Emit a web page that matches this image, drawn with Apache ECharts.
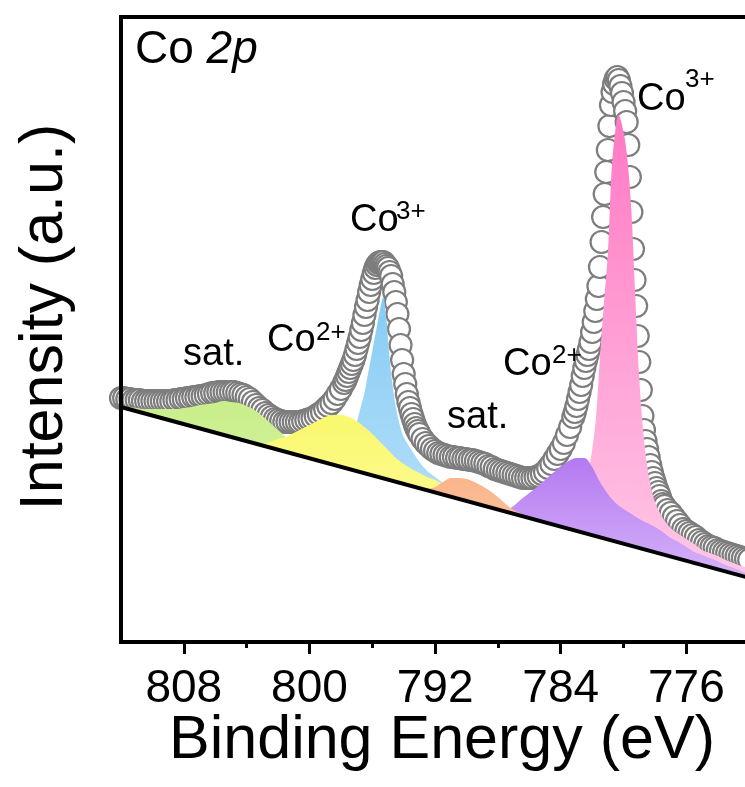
<!DOCTYPE html>
<html>
<head>
<meta charset="utf-8">
<script src="https://cdn.jsdelivr.net/npm/echarts@6/dist/echarts.min.js"></script>
<style>html,body{margin:0;padding:0;background:#fff}#c{width:745px;height:787px}</style>
</head>
<body>
<div id="c"></div>
<script>
// ---- data (binding energy in eV, intensity in arbitrary units) ----
const xMajorTicks = [768, 776, 784, 792, 800, 808];
const xTickLabels = [776, 784, 792, 800, 808];
const xMinorTicks = [772, 780, 788, 796, 804];

const baseline = [[812, 235], [768, 47]];

const envelope = [
[812.0,244],[811.8,244],[811.6,243],[811.4,243],[811.2,242],[811.0,242],[810.8,242],[810.6,241],[810.4,241],[810.2,241],[810.0,241],[809.8,241],[809.6,241],[809.4,241],[809.2,241],[809.0,241],[808.8,241],[808.6,242],[808.4,242],[808.2,243],[808.0,243],[807.8,244],[807.6,244],[807.4,245],[807.2,245],[807.0,246],[806.8,246],[806.6,247],[806.4,248],[806.2,249],[806.0,249],[805.8,250],[805.6,250],[805.4,250],[805.2,250],[805.0,250],[804.8,250],[804.6,249],[804.4,248],[804.2,247],[804.0,245],[803.8,243],[803.6,240],[803.4,237],[803.2,234],[803.0,232],[802.8,229],[802.6,227],[802.4,225],[802.2,223],[802.0,222],[801.8,221],[801.6,220],[801.4,220],[801.2,220],[801.0,220],[800.8,220],[800.6,220],[800.4,221],[800.2,222],[800.0,223],[799.8,224],[799.6,226],[799.4,228],[799.2,230],[799.0,233],[798.8,236],[798.6,239],[798.4,243],[798.2,248],[798.0,253],[797.8,259],
[797.7,262],[797.6,266],[797.5,270],[797.4,274],[797.3,278],[797.2,282],[797.1,287],[797.0,293],[796.9,299],[796.8,305],[796.7,312],[796.6,319],[796.5,327],[796.4,335],[796.3,342],[796.2,350],[796.1,357],[796.0,363],[795.9,369],[795.8,374],[795.7,377],[795.6,379],[795.5,380],[795.4,380],[795.3,380],[795.2,378],[795.1,376],[795.0,374],[794.9,370],[794.8,366],[794.7,358],[794.6,350],[794.5,340],[794.4,328],[794.3,313],[794.2,297],[794.1,282],[794.0,268],[793.9,258],[793.8,248],[793.7,240],[793.6,234],[793.5,228],[793.4,223],[793.3,218],[793.2,214],[793.1,211],[793.0,208],
[792.8,203],[792.6,199],[792.4,196],[792.2,193],[792.0,191],[791.8,189],[791.6,188],[791.4,187],[791.2,186],[791.0,185],[790.8,185],[790.6,184],[790.4,184],[790.2,183],[790.0,183],[789.8,182],[789.6,182],[789.4,181],[789.2,180],[789.0,179],[788.8,178],[788.6,176],[788.4,175],[788.2,173],[788.0,172],[787.8,171],[787.6,170],[787.4,169],[787.2,168],[787.0,167],[786.8,166],[786.6,165],[786.4,164],[786.2,164],[786.0,164],[785.8,164],[785.6,165],[785.4,166],[785.2,168],[785.0,170],[784.8,174],[784.6,178],[784.4,183],[784.2,188],[784.0,193],[783.8,199],[783.6,207],[783.4,215],[783.2,225],
[783.1,230],[783.0,236],[782.9,243],[782.8,250],[782.7,257],[782.6,266],[782.5,274],[782.4,281],[782.3,287],[782.2,293],[782.1,300],[782.0,310],[781.9,320],[781.8,331],[781.7,343],[781.6,356],[781.5,375],[781.4,400],[781.3,425],[781.2,448],[781.1,470],[781.0,492],[780.9,516],[780.8,537],[780.7,550],[780.6,558],[780.5,563],[780.4,565],[780.3,562],[780.2,556],[780.1,549],[780.0,540],[779.9,531],[779.8,520],[779.7,497],[779.6,465],[779.5,430],[779.4,393],[779.3,362],[779.2,336],[779.1,306],[779.0,280],[778.9,252],[778.8,226],[778.7,212],[778.6,201],[778.5,193],[778.4,185],[778.3,177],[778.2,170],[778.1,164],[778.0,159],[777.9,154],[777.8,150],[777.7,146],[777.6,141],[777.5,138],
[777.4,136],[777.2,132],[777.0,129],[776.8,125],[776.6,121],[776.4,117],[776.2,113],[776.0,111],[775.8,109],[775.6,107],[775.4,105],[775.2,102],[775.0,100],[774.8,98],[774.6,96],[774.4,95],[774.2,94],[774.0,92],[773.8,91],[773.6,90],[773.4,89],[773.2,88],[773.0,87],[772.8,86],[772.6,85],[772.4,84],[772.2,83],[772.0,82]
];

// fitted components (absolute intensity, baseline included)
const sat1 = [[812.0,236],[811.5,235],[811.0,234],[810.5,233],[810.0,233],[809.5,233],[809.0,233],[808.5,233],[808.0,234],[807.5,235],[807.0,237],[806.5,238],[806.0,239],[805.5,241],[805.0,240],[804.5,239],[804.0,236],[803.5,232],[803.0,226],[802.5,219],[802.0,212],[801.5,205],[801.0,200],[800.5,195],[800.0,191],[799.5,187],[799.0,183],[798.5,180],[798.0,176],[797.5,173]];
const co2p12 = [[803.0,198],[802.5,200],[802.0,203],[801.5,205],[801.0,209],[800.5,213],[800.0,217],[799.5,221],[799.0,225],[798.5,227],[798.0,227],[797.5,225],[797.0,221],[796.5,215],[796.0,208],[795.5,200],[795.0,192],[794.5,184],[794.0,178],[793.5,173],[793.0,169],[792.5,165],[792.0,162],[791.5,158],[791.0,153],[790.5,149],[790.0,145],[789.5,141],[789.0,138]];
const co3p12 = [[798.5,181],[798.0,183],[797.5,193],[797.0,219],[796.75,234],[796.5,249],[796.25,270],[796.0,291],[795.75,312],[795.5,333],[795.3,345],[795.1,323],[795.0,303],[794.9,284],[794.75,262],[794.5,235],[794.25,217],[794.0,205],[793.5,192],[793.0,180],[792.5,171],[792.0,165],[791.5,159],[791.0,153],[790.5,148],[790.0,144],[789.5,140]];
const sat2 = [[792.5,153],[792.0,155],[791.5,160],[791.0,164],[790.5,164],[790.0,163],[789.5,160],[789.0,156],[788.5,151],[788.0,145],[787.5,138],[787.0,132],[786.5,128],[786.0,124]];
const co2p32 = [[788.0,133],[787.5,132],[787.0,136],[786.5,143],[786.0,149],[785.5,155],[785.0,162],[784.5,169],[784.0,175],[783.5,181],[783.0,184],[782.5,184],[782.0,175],[781.5,160],[781.0,148],[780.5,139],[780.0,133],[779.5,128],[779.0,123],[778.5,119],[778.0,115],[777.5,110],[777.0,104],[776.5,100],[776.0,95],[775.5,90],[775.0,87],[774.5,84],[774.0,81],[773.5,77],[773.0,74],[772.5,71],[772.0,68],[771.0,63],[770.0,57]];
const co3p32 = [[784.0,117],[783.5,121],[783.0,131],[782.5,154],[782.25,170],[782.0,192],[781.75,226],[781.5,285],[781.25,339],[781.0,388],[780.75,474],[780.5,515],[780.33,527],[780.0,510],[779.75,482],[779.5,431],[779.25,345],[779.0,264],[778.75,211],[778.5,177],[778.25,155],[778.0,140],[777.5,124],[777.0,114],[776.5,108],[776.0,103],[775.5,98],[775.0,92],[774.5,89],[774.0,86],[773.5,82],[773.0,79],[772.5,76],[772.0,74],[771.0,69],[770.0,63]];

// ---- chart ----
const FONT = '"Liberation Sans", Arial, Helvetica, sans-serif';
const chart = echarts.init(document.getElementById('c'), null, {renderer: 'canvas'});

function grad(top, bottom) {
  return new echarts.graphic.LinearGradient(0, 0, 0, 1, [
    {offset: 0, color: top}, {offset: 1, color: bottom}
  ]);
}
function comp(name, data, top, bottom) {
  return {
    name, type: 'line', data, smooth: 0.35, symbol: 'none',
    lineStyle: {width: 0, opacity: 0},
    areaStyle: {color: grad(top, bottom), opacity: 1},
    silent: true, xAxisIndex: 0, yAxisIndex: 0
  };
}
function txt(x, y, text, size, extra) {
  return Object.assign({
    type: 'text', x, y, z: 100,
    style: {text, fontSize: size, fontFamily: FONT, fill: '#000', align: 'left', verticalAlign: 'middle'}
  }, extra || {});
}

const option = {
  animation: false,
  backgroundColor: '#fff',
  grid: {left: 121, top: 17, right: -67, bottom: 145, containLabel: false, outerBoundsMode: 'none',
         show: true, borderColor: '#000', borderWidth: 4, backgroundColor: 'transparent'},
  xAxis: [
    {type: 'value', min: 768, max: 812, interval: 8, inverse: true, position: 'bottom', z: 10,
     axisLine: {show: true, lineStyle: {color: '#000', width: 4}},
     axisTick: {show: true, length: 12, customValues: xMajorTicks, lineStyle: {color: '#000', width: 3}},
     axisLabel: {show: true, customValues: xTickLabels, fontSize: 46, color: '#000', fontFamily: FONT, margin: 24},
     splitLine: {show: false}, minorTick: {show: false}},
    {type: 'value', min: 768, max: 812, interval: 8, inverse: true, position: 'bottom', z: 10,
     axisLine: {show: false},
     axisTick: {show: true, length: 6, customValues: xMinorTicks, lineStyle: {color: '#000', width: 3}},
     axisLabel: {show: false}, splitLine: {show: false}},
    {type: 'value', min: 768, max: 812, inverse: true, position: 'top', z: 10,
     axisLine: {show: true, lineStyle: {color: '#000', width: 4}},
     axisTick: {show: false}, axisLabel: {show: false}, splitLine: {show: false}}
  ],
  yAxis: [
    {type: 'value', min: 0, max: 625, position: 'left', z: 10,
     axisLine: {show: true, lineStyle: {color: '#000', width: 4}},
     axisTick: {show: false}, axisLabel: {show: false}, splitLine: {show: false}}
  ],
  series: [
    comp('Co3+ 2p3/2', co3p32, '#ff78c4', '#ffd3eb'),
    comp('Co3+ 2p1/2', co3p12, '#86ccf4', '#cfeafb'),
    comp('sat. 1', sat1, '#c9ee8a', '#e9f8c8'),
    comp('Co2+ 2p3/2', co2p32, '#b479f2', '#e6d2fb'),
    comp('Co2+ 2p1/2', co2p12, '#faf86c', '#fefec4'),
    comp('sat. 2', sat2, '#fab58a', '#fddcc6'),
    {name: 'background', type: 'line', data: baseline, symbol: 'none', silent: true,
     lineStyle: {color: '#000', width: 4},
     areaStyle: {color: '#fff', opacity: 1}},
    {name: 'raw', type: 'scatter', data: envelope, symbol: 'circle', symbolSize: 22, silent: true,
     itemStyle: {color: '#fff', borderColor: '#7d7d7d', borderWidth: 2.2, opacity: 1}}
  ],
  graphic: [
    txt(45, 317, 'Intensity (a.u.)', 61, {rotation: Math.PI / 2,
      style: {text: 'Intensity (a.u.)', fontSize: 61, fontFamily: FONT, fill: '#000', align: 'center', verticalAlign: 'middle'}}),
    txt(442, 741, 'Binding Energy (eV)', 61, {
      style: {text: 'Binding Energy (eV)', fontSize: 61, fontFamily: FONT, fill: '#000', align: 'center', verticalAlign: 'middle'}}),
    {type: 'text', x: 135, y: 50, z: 100,
     style: {text: '{a|Co }{b|2p}', fontFamily: FONT, fill: '#000', align: 'left', verticalAlign: 'middle',
             rich: {a: {fontSize: 46, fontFamily: FONT, fill: '#000'},
                    b: {fontSize: 46, fontFamily: FONT, fontStyle: 'italic', fill: '#000'}}}},
    txt(183, 355, 'sat.', 38),
    txt(267, 341, 'Co', 38), txt(316, 333, '2+', 26),
    txt(350, 221, 'Co', 38), txt(396, 212, '3+', 26),
    txt(447, 418, 'sat.', 38),
    txt(503, 365, 'Co', 38), txt(552, 356, '2+', 26),
    txt(637, 100, 'Co', 38), txt(685, 80, '3+', 26)
  ]
};
chart.setOption(option);
</script>
</body>
</html>
